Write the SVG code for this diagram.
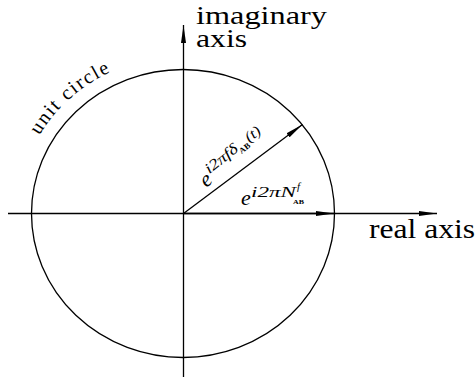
<svg xmlns="http://www.w3.org/2000/svg" width="476" height="380" viewBox="0 0 476 380">
<style>
.ln{stroke:#000;stroke-width:1.3;fill:none}
.t{font-family:"Liberation Serif","Times New Roman",serif;fill:#000}
.m{font-family:"Liberation Serif","Times New Roman",serif;font-style:italic;fill:#000}
.s{font-family:"Liberation Serif","Times New Roman",serif;font-weight:bold;fill:#000}
</style>
<defs>
<marker id="ah" markerUnits="userSpaceOnUse" viewBox="0 0 18 7" refX="18" refY="3.5" markerWidth="18" markerHeight="7" orient="auto">
<path d="M0,1 L18,3.5 L0,6 Z" fill="#000"/>
</marker>
<path id="ucp" d="M17.5,213.5 A165.5 157.5 0 0 1 183,56"/>
</defs>
<g id="circle">
<ellipse class="ln" cx="183" cy="213.5" rx="151.5" ry="144"/>
<text class="t" font-size="20" letter-spacing="1.6"><textPath href="#ucp" startOffset="82">unit circle</textPath></text>
</g>
<g id="connectors">
<line class="ln" x1="8" y1="213.5" x2="437" y2="213.5" marker-end="url(#ah)"/>
<line class="ln" x1="183.5" y1="377" x2="183.5" y2="25" marker-end="url(#ah)"/>
<line class="ln" x1="183.5" y1="213.5" x2="334" y2="213.5" marker-end="url(#ah)"/>
<line class="ln" x1="183.5" y1="213.5" x2="302.5" y2="124.5" marker-end="url(#ah)"/>
</g>
<g id="imag-label">
<text class="t" font-size="26"><tspan x="196" y="24" textLength="131" lengthAdjust="spacingAndGlyphs">imaginary</tspan><tspan x="196" y="47" textLength="51" lengthAdjust="spacingAndGlyphs">axis</tspan></text>
</g>
<g id="real-label">
<text class="t" font-size="28" x="369" y="238" textLength="106" lengthAdjust="spacingAndGlyphs">real axis</text>
</g>
<g id="vec-label" transform="translate(206,188) rotate(-38)">
<text class="m" font-size="22" x="0" y="0">e</text>
<text class="m" font-size="15" x="11" y="-9" textLength="38" lengthAdjust="spacingAndGlyphs">i2πfδ</text>
<text class="s" font-size="8" x="49" y="-5" textLength="12" lengthAdjust="spacingAndGlyphs">AB</text>
<text class="m" font-size="15" x="62" y="-9" textLength="16" lengthAdjust="spacingAndGlyphs">(t)</text>
</g>
<g id="n-label">
<text class="m" font-size="22" x="241" y="205">e</text>
<text class="m" font-size="15" x="251" y="197" textLength="45" lengthAdjust="spacingAndGlyphs">i2πN</text>
<text class="m" font-size="11" x="297" y="190">f</text>
<text class="s" font-size="7" x="293" y="204" textLength="11" lengthAdjust="spacingAndGlyphs">AB</text>
</g>
</svg>
